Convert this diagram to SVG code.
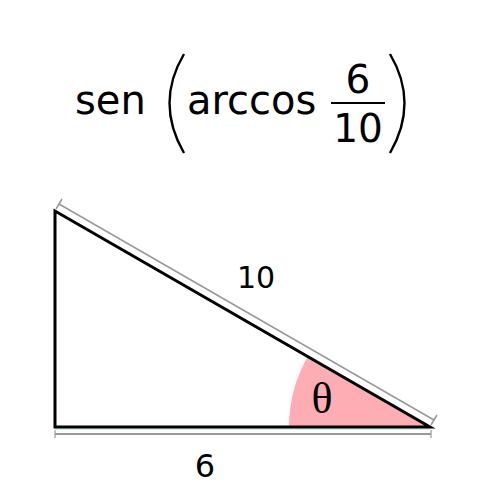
<svg xmlns="http://www.w3.org/2000/svg" width="500" height="500" viewBox="0 0 500 500">
<style>
.sans{font-family:"DejaVu Sans","Verdana",sans-serif;fill:#000}
.dim{stroke:#999;fill:none}
.edge{stroke:#000;stroke-width:3;fill:none;stroke-linecap:square}
</style>
<rect width="500" height="500" fill="#fff"/>
<g id="formula">
<text class="sans" x="75" y="114" font-size="40">sen</text>
<path d="M184,54 Q155,103 184,153" fill="none" stroke="#000" stroke-width="2.4"/>
<text class="sans" x="187" y="114" font-size="40">arccos</text>
<line x1="331" y1="103" x2="385" y2="103" stroke="#000" stroke-width="2"/>
<text class="sans" x="358" y="93" font-size="39" text-anchor="middle">6</text>
<text class="sans" x="358" y="142" font-size="39" text-anchor="middle">10</text>
<path d="M390,54 Q419,103 390,153" fill="none" stroke="#000" stroke-width="2.4"/>
</g>
<g id="angle">
<path d="M430,427 L289,427 A141,141 0 0 1 307.9,356.6 Z" fill="#ffadb5"/>
<text x="322" y="413" font-family="'Liberation Serif','Times New Roman',serif" font-size="44" text-anchor="middle">θ</text>
</g>
<g id="connectors">
<line x1="55" y1="429" x2="430" y2="429" stroke="#aee8e0" stroke-width="1"/>
<g id="triangle">
<path class="edge" d="M55,211 L55,427 L430,427 Z" stroke-linejoin="miter"/>
</g>
<g id="dim-hyp">
<line class="dim" x1="59" y1="204" x2="434" y2="420" stroke-width="1.5"/>
<line class="dim" x1="56" y1="209" x2="62" y2="199" stroke-width="1.5"/>
<line class="dim" x1="431" y1="425" x2="437" y2="415" stroke-width="1.5"/>
</g>
<g id="dim-base">
<line class="dim" x1="55" y1="434" x2="431" y2="434" stroke-width="2"/>
<line class="dim" x1="55" y1="430" x2="55" y2="438" stroke-width="1.2"/>
<line class="dim" x1="431" y1="430" x2="431" y2="438" stroke-width="1.2"/>
</g>
</g>
<g id="labels">
<text class="sans" x="256" y="288" font-size="30" text-anchor="middle">10</text>
<text class="sans" x="205" y="477" font-size="32" text-anchor="middle">6</text>
</g>
</svg>
